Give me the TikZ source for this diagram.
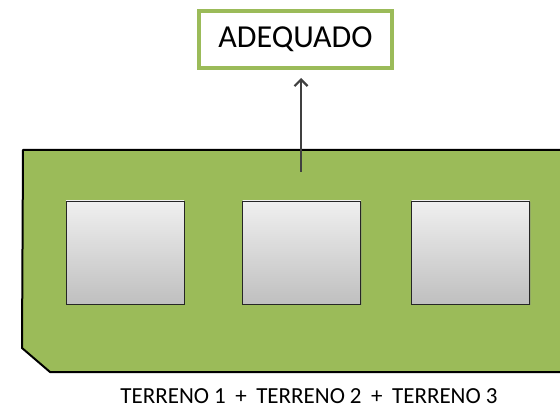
\documentclass[tikz,border=0pt]{standalone}
\usepackage{fontspec}
\setmainfont{Carlito}
\usetikzlibrary{arrows.meta,shadows}
\definecolor{ogreen}{HTML}{9BBB59}
\definecolor{arrowgray}{HTML}{404040}
\tikzset{
  sq/.style={draw=black!85, line width=0.8pt, top color=gray!12, bottom color=gray!50,
    minimum width=118pt, minimum height=103pt, inner sep=0pt,
    drop shadow={shadow xshift=1pt, shadow yshift=-1pt, opacity=0.3}},
  topbox/.style={draw=ogreen, line width=4pt, fill=white, minimum width=193pt, minimum height=57pt, inner sep=0pt, font=\fontsize{32}{34}\selectfont},
  conn/.style={draw=arrowgray, line width=2pt, -{Straight Barb[length=6.5pt,width=13pt,line width=2.2pt]}}
}
\newcommand{\trr}[1]{TERRENO\hspace{5pt}#1}
\begin{document}
\begin{tikzpicture}[x=1pt,y=-1pt]
\useasboundingbox (0,0) rectangle (560,406);
\begin{scope}
\clip (0,0) rectangle (560,406);
\draw[fill=ogreen, line width=2pt, line join=round] (23,150) -- (580,150) -- (580,372) -- (50,372) -- (22,348) -- cycle;
\end{scope}
\node[sq] (t1) at (125,252.5) {};
\node[sq] (t2) at (301.5,252.5) {};
\node[sq] (t3) at (470.5,252.5) {};
\node[topbox] (a) at (295.5,39.5) {ADEQUADO};
\coordinate (s) at (301,172);
\draw[conn] (s) -- ([yshift=-8pt]a.south -| s);
\node[font=\fontsize{23}{25}\selectfont, anchor=base, inner sep=0pt] (lbl) at (309,403) {\trr{1}\hspace{9.5pt}+\hspace{9.5pt}\trr{2}\hspace{9.5pt}+\hspace{9.5pt}\trr{3}};
\end{tikzpicture}
\end{document}
